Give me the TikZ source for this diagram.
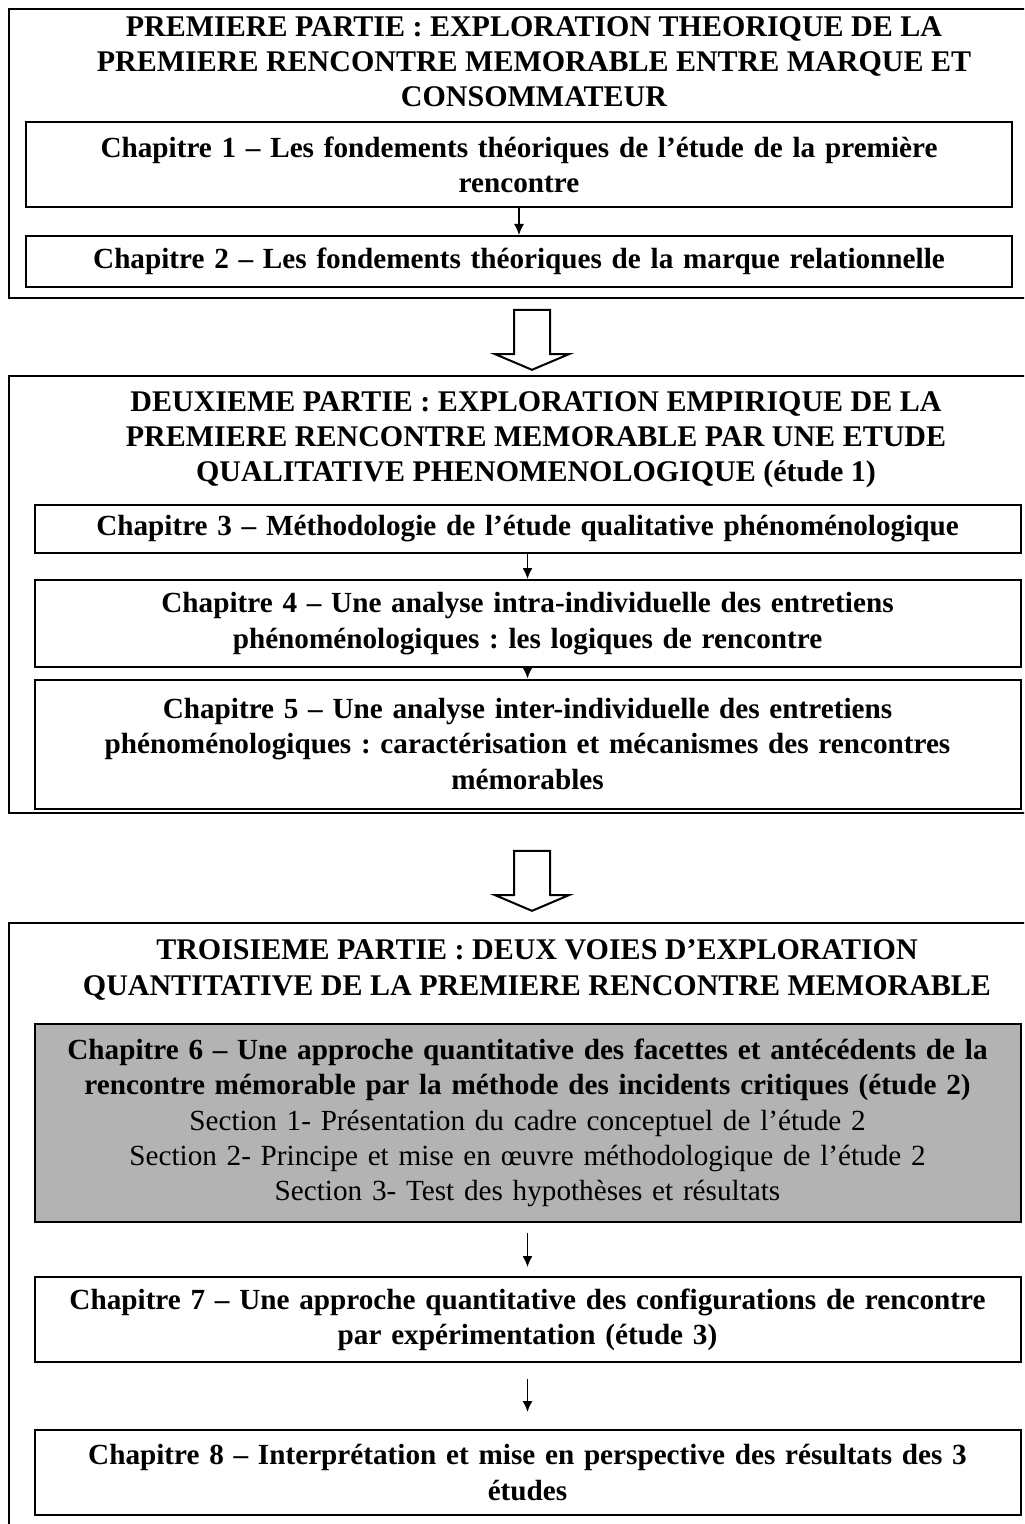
\documentclass[tikz,border=0pt]{standalone}
\usepackage{fontspec}
\setmainfont{Liberation Serif}
\usetikzlibrary{arrows.meta,shapes.arrows}
\frenchspacing

\begin{document}
\begin{tikzpicture}[x=0.5pt, y=-0.5pt, >={Latex[length=5.5pt,width=5pt]},
  cadre/.style={draw, line width=1pt},
  partie/.style={align=center, inner sep=0pt, font=\fontsize{15}{17.6}\selectfont\bfseries},
  chapitre/.style={draw, line width=1pt, align=center, inner sep=0pt, text width=482pt, minimum width=493pt, font=\fontsize{14.6}{17.6}\selectfont\bfseries},
  lien/.style={->, line width=0.75pt},
  grandeflèche/.style={single arrow, draw, line width=1pt, shape border rotate=270, inner xsep=8.5pt, inner ysep=0pt, minimum height=30pt, minimum width=36pt, single arrow head extend=9.5pt, single arrow tip angle=134}]

\definecolor{grisetude}{RGB}{179,179,179}

\useasboundingbox (0,0) rectangle (1024,1524);
\clip (0,0) rectangle (1024,1524);

\draw[cadre] (9,9) rectangle (1061,298);
\node[partie] (titre1) at (534,62) {PREMIERE PARTIE : EXPLORATION THEORIQUE DE LA\\PREMIERE RENCONTRE MEMORABLE ENTRE MARQUE ET\\CONSOMMATEUR};
\node[chapitre, minimum height=42.5pt] (chap1) at (519,164.5) {Chapitre 1 – Les fondements théoriques de l’étude de la première\\rencontre};
\node[chapitre, minimum height=25.5pt] (chap2) at (519,261.5) {Chapitre 2 – Les fondements théoriques de la marque relationnelle};
\draw[lien] (chap1) -- (chap2);

\node[grandeflèche] (vers2) at (532,336) {};

\draw[cadre] (9,376) rectangle (1061,813);
\node[partie] (titre2) at (536,440) {DEUXIEME PARTIE : EXPLORATION EMPIRIQUE DE LA\\PREMIERE RENCONTRE MEMORABLE PAR UNE ETUDE\\QUALITATIVE PHENOMENOLOGIQUE (étude 1)};
\node[chapitre, minimum height=24pt] (chap3) at (527.5,529) {Chapitre 3 – Méthodologie de l’étude qualitative phénoménologique};
\node[chapitre, minimum height=43.5pt] (chap4) at (527.5,623.5) {Chapitre 4 – Une analyse intra-individuelle des entretiens\\phénoménologiques : les logiques de rencontre};
\node[chapitre, minimum height=64.5pt] (chap5) at (527.5,744) {Chapitre 5 – Une analyse inter-individuelle des entretiens\\phénoménologiques : caractérisation et mécanismes des rencontres\\mémorables};
\draw[lien] (chap3) -- (chap4);
\draw[lien] (chap4) -- (chap5);

\node[grandeflèche] (vers3) at (532,877) {};

\draw[cadre] (9,923) rectangle (1061,1540);
\node[partie] (titre3) at (537,970) {TROISIEME PARTIE : DEUX VOIES D’EXPLORATION\\QUANTITATIVE DE LA PREMIERE RENCONTRE MEMORABLE};
\node[chapitre, fill=grisetude, minimum height=99pt] (chap6) at (527.5,1123) {Chapitre 6 – Une approche quantitative des facettes et antécédents de la\\rencontre mémorable par la méthode des incidents critiques (étude 2)\\{\mdseries Section 1- Présentation du cadre conceptuel de l’étude 2}\\{\mdseries Section 2- Principe et mise en œuvre méthodologique de l’étude 2}\\{\mdseries Section 3- Test des hypothèses et résultats}};
\node[chapitre, minimum height=42.5pt] (chap7) at (527.5,1319.5) {Chapitre 7 – Une approche quantitative des configurations de rencontre\\par expérimentation (étude 3)};
\node[chapitre, minimum height=42.5pt] (chap8) at (527.5,1472.5) {Chapitre 8 – Interprétation et mise en perspective des résultats des 3\\études};
\draw[lien, shorten <=5pt, shorten >=4.5pt] (chap6) -- (chap7);
\draw[lien, shorten <=8pt, shorten >=8.5pt] (chap7) -- (chap8);

\end{tikzpicture}
\end{document}
